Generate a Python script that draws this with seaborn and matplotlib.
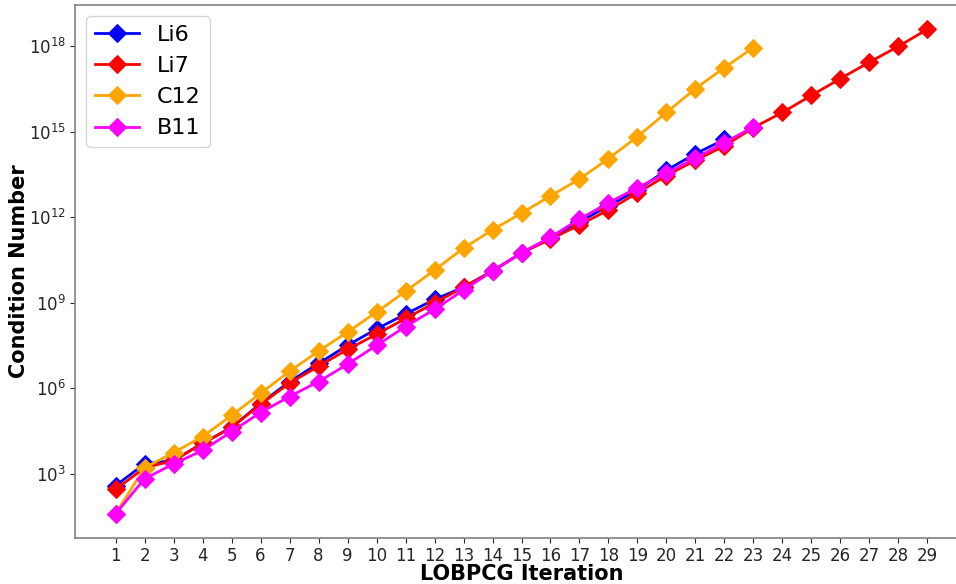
import matplotlib
matplotlib.use("Agg")
import matplotlib.pyplot as plt
import matplotlib.ticker as mticker
import seaborn as sns
import pandas as pd

li6 = [3.8e2, 2.2e3, 2.9e3, 1.15e4, 4.2e4, 2.9e5, 1.7e6, 7.4e6, 3.2e7, 1.2e8, 4.0e8,
       1.3e9, 3.5e9, 1.3e10, 5.6e10, 1.9e11, 6.9e11, 2.5e12, 9.1e12, 4.5e13, 1.7e14, 5.4e14]
li7 = [2.8e2, 1.6e3, 2.9e3, 1.15e4, 4.2e4, 2.7e5, 1.5e6, 5.9e6, 2.3e7, 7.8e7, 2.8e8,
       9.8e8, 3.5e9, 1.3e10, 5.6e10, 1.7e11, 5.4e11, 1.8e12, 7.2e12, 2.9e13, 1.0e14,
       3.2e14, 1.4e15, 4.8e15, 1.9e16, 7.4e16, 2.8e17, 1.0e18, 4.0e18]
c12 = [3.9e1, 1.6e3, 5.5e3, 2.0e4, 1.1e5, 6.6e5, 3.9e6, 2.0e7, 9.3e7, 4.7e8, 2.5e9,
       1.4e10, 8.3e10, 3.6e11, 1.4e12, 5.6e12, 2.2e13, 1.15e14, 6.8e14, 4.8e15, 3.3e16,
       1.8e17, 9.1e17]
b11 = [3.9e1, 6.6e2, 2.2e3, 6.5e3, 3.0e4, 1.4e5, 5.1e5, 1.7e6, 6.9e6, 3.2e7, 1.45e8,
       5.9e8, 2.75e9, 1.3e10, 5.6e10, 2.0e11, 8.7e11, 3.2e12, 1.1e13, 3.5e13, 1.2e14,
       4.2e14, 1.5e15]
ytick_vals = [1e3, 1e6, 1e9, 1e12, 1e15, 1e18]

series = {"Li6": li6, "Li7": li7, "C12": c12, "B11": b11}
colors = {"Li6": "blue", "Li7": "red", "C12": "orange", "B11": "magenta"}

rows = []
for name, vals in series.items():
    for i, v in enumerate(vals):
        rows.append({"Iteration": i + 1, "Cond": v, "Nucleus": name})
df = pd.DataFrame(rows)

plt.rcParams["font.family"] = ["DejaVu Sans"]
fig = plt.figure(figsize=(9.56, 5.84), dpi=100)
ax = fig.add_axes([75 / 956, 46 / 584, (968 - 75) / 956, (538 - 5) / 584])

for name in series:
    sub = df[df["Nucleus"] == name]
    sns.lineplot(data=sub, x="Iteration", y="Cond", ax=ax, color=colors[name],
                 marker="D", markersize=9, linewidth=2, markeredgecolor=colors[name],
                 label=name)

ax.set_yscale("log")
ax.set_xlim(-0.4, 30.4)
ax.set_xticks(list(range(1, 30)))
ax.set_xticklabels([str(i) for i in range(1, 30)])
ax.yaxis.set_major_locator(mticker.FixedLocator(ytick_vals))
ax.yaxis.set_minor_locator(mticker.NullLocator())
ax.tick_params(axis="both", labelsize=12, colors="0.15", pad=3)
for s in ax.spines.values():
    s.set_color("0.5")
    s.set_linewidth(1.2)

ax.set_xlabel("LOBPCG Iteration", fontsize=15, fontweight="bold", labelpad=-1)
ax.set_ylabel("Condition Number", fontsize=15, fontweight="bold", labelpad=0)
ax.legend(loc="upper left", fontsize=16, handlelength=2.0)

fig.savefig("out.png", dpi=100)
